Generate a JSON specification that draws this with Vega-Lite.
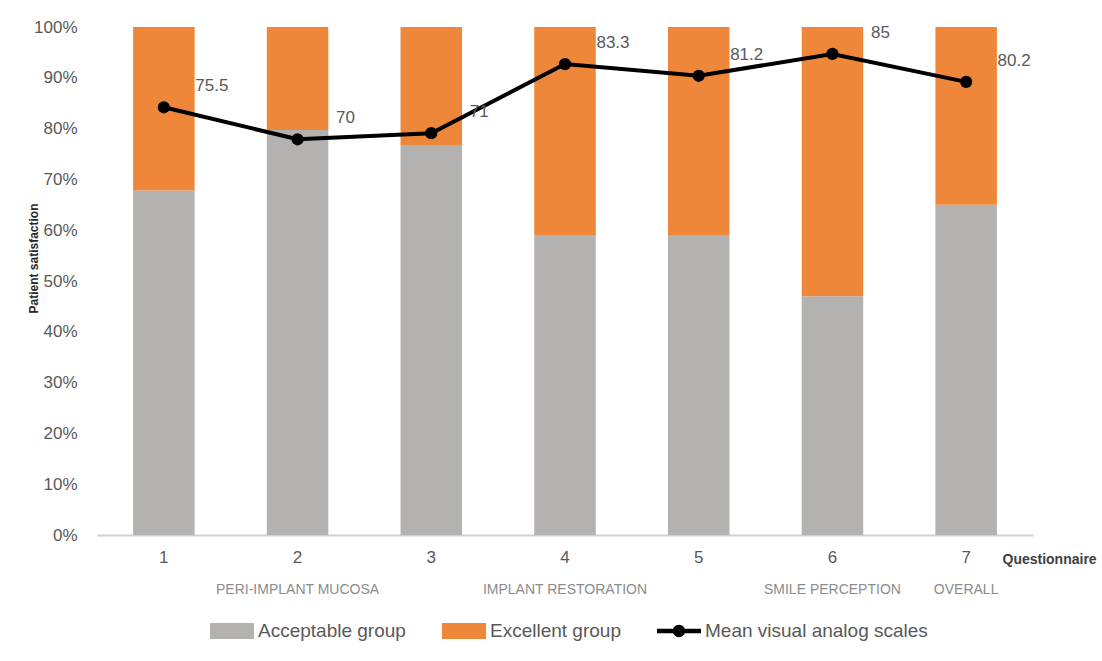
{
  "$schema": "https://vega.github.io/schema/vega-lite/v6.json",
  "width": 936,
  "height": 508,
  "autosize": "none",
  "padding": {"left": 97, "top": 27, "right": 69, "bottom": 126},
  "background": "white",
  "config": {
    "view": {"stroke": null},
    "font": "Liberation Sans"
  },
  "data": {
    "values": [
      {"q": "1", "Acceptable group": 0.678, "Excellent group": 0.322, "mean": 0.842, "vas": "75.5"},
      {"q": "2", "Acceptable group": 0.797, "Excellent group": 0.203, "mean": 0.779, "vas": "70"},
      {"q": "3", "Acceptable group": 0.766, "Excellent group": 0.234, "mean": 0.791, "vas": "71"},
      {"q": "4", "Acceptable group": 0.589, "Excellent group": 0.411, "mean": 0.927, "vas": "83.3"},
      {"q": "5", "Acceptable group": 0.589, "Excellent group": 0.411, "mean": 0.904, "vas": "81.2"},
      {"q": "6", "Acceptable group": 0.470, "Excellent group": 0.530, "mean": 0.947, "vas": "85"},
      {"q": "7", "Acceptable group": 0.650, "Excellent group": 0.350, "mean": 0.892, "vas": "80.2"}
    ]
  },
  "resolve": {"axis": {"x": "independent"}},
  "layer": [
    {
      "transform": [{"fold": ["Acceptable group", "Excellent group"], "as": ["group", "share"]}],
      "mark": {"type": "bar"},
      "encoding": {
        "x": {
          "field": "q", "type": "nominal",
          "scale": {"paddingInner": 0.54, "paddingOuter": 0.27},
          "axis": {
            "orient": "bottom",
            "labelAngle": 0,
            "labelFont": "Liberation Sans Narrow, Liberation Sans",
            "labelFontSize": 17,
            "labelColor": "#595959",
            "labelPadding": 14,
            "ticks": false,
            "domainColor": "#d0d0d0",
            "domainWidth": 2,
            "title": "Questionnaire",
            "titleX": 905,
            "titleY": 24,
            "titleAlign": "left",
            "titleBaseline": "middle",
            "titleFont": "Liberation Sans",
            "titleFontSize": 14,
            "titleFontWeight": "bold",
            "titleColor": "#404040"
          }
        },
        "y": {
          "field": "share", "type": "quantitative", "stack": "zero",
          "scale": {"domain": [0, 1], "nice": false},
          "axis": {
            "values": [0, 0.1, 0.2, 0.3, 0.4, 0.5, 0.6, 0.7, 0.8, 0.9, 1],
            "format": ".0%",
            "domain": false,
            "ticks": false,
            "grid": false,
            "labelPadding": 20,
            "labelFontSize": 17,
            "labelColor": "#595959",
            "title": "Patient satisfaction",
            "titleX": -64,
            "titleY": 231,
            "titleAlign": "center",
            "titleBaseline": "middle",
            "titleFontSize": 12,
            "titleFontWeight": "bold",
            "titleColor": "#262626"
          }
        },
        "order": {"field": "group", "sort": "ascending"},
        "color": {
          "field": "group", "type": "nominal",
          "scale": {
            "domain": ["Acceptable group", "Excellent group", "Mean visual analog scales"],
            "range": ["#b4b2b1", "#ef873a", "#000000"]
          },
          "legend": {
            "title": null,
            "orient": "none",
            "legendX": 113,
            "legendY": 582,
            "direction": "horizontal",
            "columns": 3,
            "symbolSize": 1936,
            "symbolStrokeWidth": 0,
            "labelFont": "Liberation Sans",
            "labelFontSize": 19,
            "labelColor": "#595959",
            "labelOffset": 4,
            "labelLimit": 400,
            "columnPadding": 36,
            "encode": {
              "symbols": {
                "update": {
                  "shape": {"signal": "datum.value === 'Mean visual analog scales' ? 'M-1,-0.1H1V0.1H-1Z M-0.28,0A0.28,0.28 0 1,1 0.28,0A0.28,0.28 0 1,1 -0.28,0Z' : 'M-1,-0.36H1V0.36H-1Z'"},
                  "fill": {"scale": "color", "field": "value"},
                  "fillOpacity": {"value": 1},
                  "strokeWidth": {"value": 0}
                }
              }
            }
          }
        }
      }
    },
    {
      "mark": {"type": "line", "strokeWidth": 4, "color": "#000000"},
      "encoding": {
        "x": {
          "field": "q", "type": "nominal",
          "axis": {
            "orient": "bottom",
            "title": null,
            "domain": false,
            "ticks": false,
            "labelAngle": 0,
            "labelPadding": 47,
            "labelFont": "Liberation Sans",
            "labelFontSize": 14,
            "labelColor": "#8c8c8c",
            "labelExpr": "datum.value == '2' ? 'PERI-IMPLANT MUCOSA' : datum.value == '4' ? 'IMPLANT RESTORATION' : datum.value == '6' ? 'SMILE PERCEPTION' : datum.value == '7' ? 'OVERALL' : ''",
            "encode": {
              "labels": {
                "update": {
                  "dx": {"signal": "datum.value == '4' ? 25 : datum.value == '7' ? 41 : datum.value == '6' ? 6 : 0"}
                }
              }
            }
          }
        },
        "y": {"field": "mean", "type": "quantitative"},
        "color": {"datum": "Mean visual analog scales"}
      }
    },
    {
      "mark": {"type": "circle", "size": 150, "opacity": 1},
      "encoding": {
        "x": {"field": "q", "type": "nominal", "axis": null},
        "y": {"field": "mean", "type": "quantitative"},
        "color": {"datum": "Mean visual analog scales"}
      }
    },
    {
      "mark": {"type": "text", "dx": 48, "dy": -21, "fontSize": 17, "color": "#595959", "align": "center", "baseline": "middle"},
      "encoding": {
        "x": {"field": "q", "type": "nominal", "axis": null},
        "y": {"field": "mean", "type": "quantitative"},
        "text": {"field": "vas", "type": "nominal"}
      }
    }
  ]
}
